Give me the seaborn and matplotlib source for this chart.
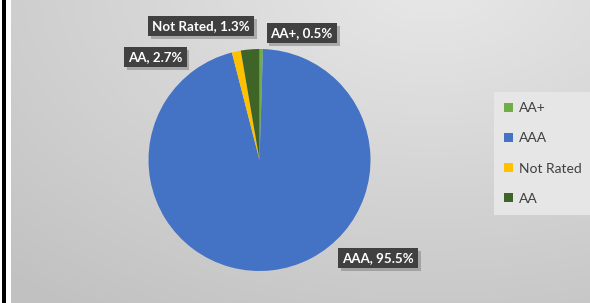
import numpy as np
import matplotlib
matplotlib.use("Agg")
import matplotlib.pyplot as plt
import matplotlib.patheffects as pe
from matplotlib.patches import Rectangle
import seaborn as sns

# --- data ---
ratings = ["AA+", "AAA", "Not Rated", "AA"]
shares = [0.5, 95.5, 1.3, 2.7]
colors = ["#70AD47", "#4472C4", "#FFC000", "#3F6428"]

# label box centres in pie data units (radius = 1)
label_pos = {"AA+": (0.38, 1.14), "AAA": (1.07, -0.885),
             "Not Rated": (-0.525, 1.205), "AA": (-0.937, 0.925)}

sns.set_theme(style="white")
plt.rcParams["font.family"] = ["Lato", "DejaVu Sans"]

W, H = 590, 303
fig = plt.figure(figsize=(W / 100, H / 100), dpi=100)
fig.patch.set_facecolor("white")

# --- grey gradient background panel ---
bg = fig.add_axes([11 / W, 0, (W - 11) / W, 1])
bg.set_axis_off()
yy, xx = np.mgrid[0:H, 0:W - 11]
dist = np.sqrt(((xx - 420) / 520.0) ** 2 + ((yy + 20) / 330.0) ** 2)
shade = 0.91 - 0.15 * np.clip(dist, 0, 1.2) / 1.2
bg.imshow(np.dstack([shade] * 3), aspect="auto", extent=(0, 1, 0, 1), origin="upper")
bg.set_xlim(0, 1)
bg.set_ylim(0, 1)

# black bar on the left edge
fig.patches.append(Rectangle((2 / W, 0), 4 / W, 1, transform=fig.transFigure,
                             facecolor="black", edgecolor="none"))

# --- pie ---
cx, cy, r = 259.5, 160, 111
ax = fig.add_axes([(cx - r) / W, (H - cy - r) / H, 2 * r / W, 2 * r / H])
wedges, _ = ax.pie(shares, colors=colors, startangle=90, counterclock=False,
                   radius=1, wedgeprops=dict(linewidth=0))
ax.set_xlim(-1, 1)
ax.set_ylim(-1, 1)
ax.set_aspect("auto")
ax.set_axis_off()

for name, val in zip(ratings, shares):
    x, y = label_pos[name]
    t = ax.text(x, y, f"{name}, {val}%", ha="center", va="center", color="white",
                fontsize=9.6, fontweight="bold", clip_on=False,
                bbox=dict(boxstyle="square,pad=0.3", facecolor="#404040", edgecolor="none"))
    t.get_bbox_patch().set_path_effects([
        pe.SimplePatchShadow(offset=(2, -2), shadow_rgbFace="#888888", alpha=0.6),
        pe.Normal()])

# --- legend ---
leg = fig.legend(wedges, ratings, loc="upper left", bbox_to_anchor=(494 / W, 1 - 92 / H),
                 frameon=True, fancybox=False, facecolor="#e6e6e6", edgecolor="none",
                 framealpha=1, fontsize=10, labelspacing=1.3, handlelength=0.6,
                 handleheight=0.6, handletextpad=0.45, borderpad=0.75, borderaxespad=0)
for txt in leg.get_texts():
    txt.set_color("#404040")

fig.savefig("out.png", dpi=100)
